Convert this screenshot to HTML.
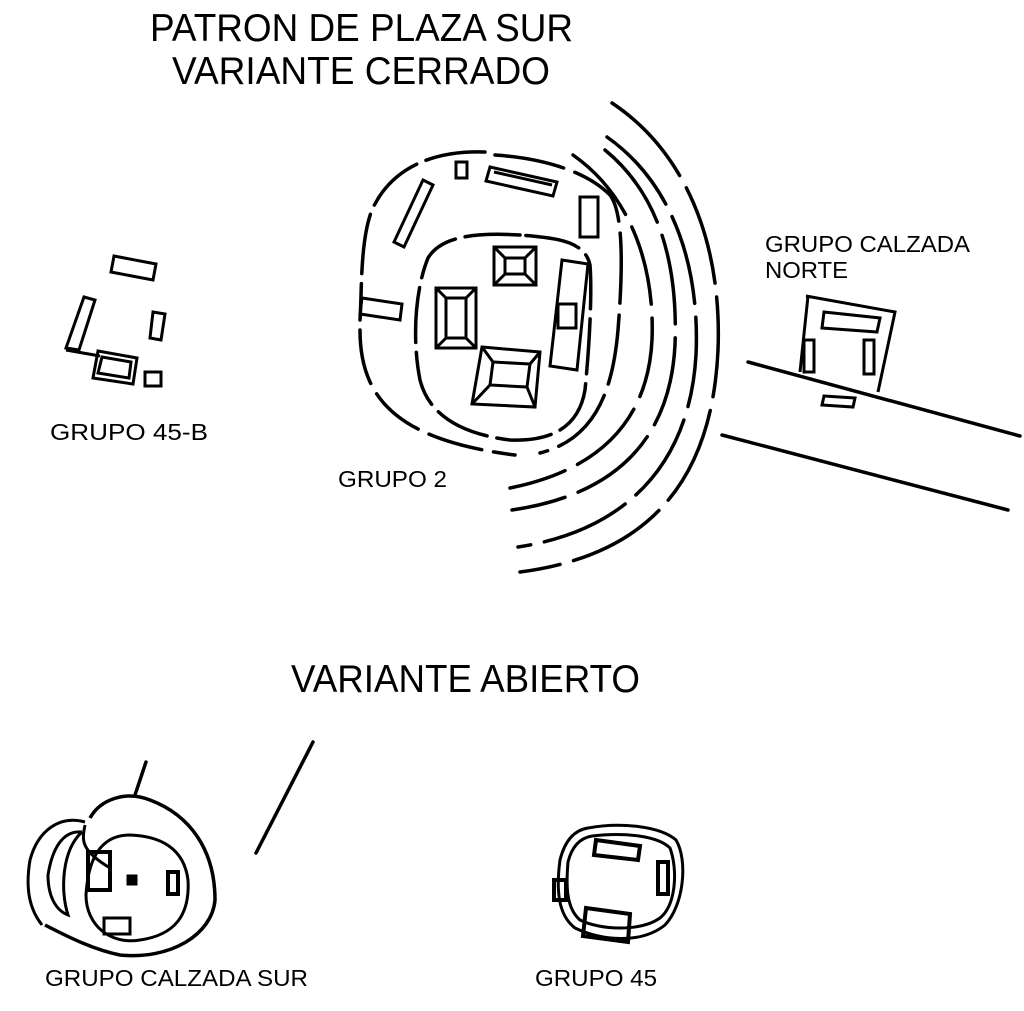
<!DOCTYPE html>
<html><head><meta charset="utf-8"><style>html,body{margin:0;padding:0;background:#fff}svg{display:block}</style></head>
<body>
<svg width="1024" height="1011" viewBox="0 0 1024 1011" xmlns="http://www.w3.org/2000/svg" font-family="Liberation Sans, sans-serif">
<g fill="#000">
<text x="150" y="41" font-size="39" textLength="423" lengthAdjust="spacingAndGlyphs">PATRON DE PLAZA SUR</text>
<text x="172" y="84" font-size="39" textLength="378" lengthAdjust="spacingAndGlyphs">VARIANTE CERRADO</text>
<text x="291" y="692" font-size="39" textLength="349" lengthAdjust="spacingAndGlyphs">VARIANTE ABIERTO</text>
<text x="50" y="440" font-size="23" textLength="158" lengthAdjust="spacingAndGlyphs">GRUPO 45-B</text>
<text x="338" y="487" font-size="23" textLength="109" lengthAdjust="spacingAndGlyphs">GRUPO 2</text>
<text x="765" y="252" font-size="23" textLength="205" lengthAdjust="spacingAndGlyphs">GRUPO CALZADA</text>
<text x="765" y="278" font-size="23" textLength="83" lengthAdjust="spacingAndGlyphs">NORTE</text>
<text x="45" y="986" font-size="23" textLength="263" lengthAdjust="spacingAndGlyphs">GRUPO CALZADA SUR</text>
<text x="535" y="986" font-size="23" textLength="122" lengthAdjust="spacingAndGlyphs">GRUPO 45</text>
</g>
<g fill="none" stroke="#000" stroke-width="3.5" stroke-linecap="round">
<path d="M485 152 C430 150 390 170 372 210 C360 240 362 290 360 320" stroke-dasharray="60 10"/>
<path d="M360 330 C360 380 380 410 420 430 C450 445 490 452 515 455" stroke-dasharray="55 12"/>
<path d="M495 155 C540 158 585 170 610 195 C625 215 622 280 618 330 C612 400 590 440 540 453" stroke-dasharray="70 12"/>
<path d="M520 235 C470 232 440 238 428 258 C415 290 412 340 420 380 C430 420 470 435 510 440 C560 442 580 420 585 390 C590 340 592 290 590 265 C585 242 560 238 520 235" stroke-dasharray="55 10"/>
<path d="M573 155 C630 195 655 265 652 340 C648 420 600 470 510 488" stroke-dasharray="80 14"/>
<path d="M605 150 C660 195 678 265 675 345 C670 440 615 495 512 510" stroke-dasharray="90 14"/>
<path d="M607 137 C675 185 700 270 696 355 C690 460 630 530 518 547" stroke-dasharray="90 14"/>
<path d="M612 103 C690 155 722 250 718 350 C712 480 650 555 520 572" stroke-dasharray="100 14"/>
<line x1="748" y1="362" x2="1020" y2="436"/>
<line x1="722" y1="435" x2="1008" y2="510"/>
<line x1="146" y1="762" x2="135" y2="795"/>
<line x1="313" y1="742" x2="256" y2="853"/>
</g>
<g fill="none" stroke="#000" stroke-width="3">
<rect x="456" y="162" width="11" height="16"/>
<path d="M490 167 L557 182 L553 196 L486 181 Z"/><path d="M494 172 L552 185"/>
<rect x="580" y="197" width="18" height="40"/>
<path d="M423 180 L433 185 L404 247 L394 242 Z"/>
<path d="M362 298 L402 304 L400 320 L360 314 Z"/>
<rect x="494" y="247" width="42" height="38"/><rect x="505" y="258" width="20" height="16"/>
<path d="M494 247 L505 258 M536 247 L525 258 M494 285 L505 274 M536 285 L525 274"/>
<rect x="436" y="288" width="40" height="60"/><rect x="446" y="298" width="20" height="40"/>
<path d="M436 288 L446 298 M476 288 L466 298 M436 348 L446 338 M476 348 L466 338"/>
<path d="M482 347 L540 352 L535 407 L472 404 Z"/><path d="M493 362 L530 364 L527 387 L490 385 Z"/>
<path d="M482 347 L493 362 M540 352 L530 364 M472 404 L490 385 M535 407 L527 387"/>
<path d="M562 260 L588 264 L577 370 L550 366 Z"/><rect x="558" y="304" width="18" height="24"/>
<path d="M806 296 L895 312 L878 392 M808 296 L800 372"/>
<path d="M824 312 L880 318 L877 332 L822 328 Z"/>
<rect x="804" y="340" width="10" height="32"/><rect x="864" y="340" width="10" height="34"/>
<path d="M824 396 L855 398 L853 407 L822 405 Z"/>
<path d="M114 256 L156 264 L153 280 L111 272 Z"/>
<path d="M84 297 L95 300 L79 350 L66 348 Z"/><path d="M66 350 L100 356"/>
<path d="M98 351 L137 358 L133 384 L93 378 Z"/><path d="M102 357 L131 362 L129 378 L98 373 Z"/>
<path d="M153 312 L165 314 L161 340 L150 338 Z"/>
<rect x="145" y="372" width="16" height="14"/>
<path d="M90 818 C100 800 125 790 150 800 C190 815 215 850 215 900 C212 935 170 960 120 955 C95 950 70 938 45 925" stroke-width="3.5"/>
<path d="M85 822 C60 815 38 830 30 860 C25 890 30 910 42 925"/>
<path d="M82 832 C62 830 52 850 48 875 C48 895 55 910 68 915 C60 890 62 850 82 832"/>
<path d="M110 868 C80 850 82 840 85 825"/>
<path d="M130 835 C100 835 88 860 86 895 C86 925 110 945 140 940 C175 935 190 915 188 880 C184 848 160 836 130 835"/>
<rect x="88" y="852" width="22" height="38" stroke-width="4"/>
<rect x="128" y="876" width="8" height="8" fill="#000"/>
<rect x="168" y="872" width="10" height="22" stroke-width="4"/>
<rect x="104" y="918" width="26" height="16"/>
<path d="M588 828 C620 822 660 826 676 840 C688 860 684 905 665 925 C640 945 600 940 575 928 C558 915 556 890 560 860 C565 840 575 830 588 828"/>
<path d="M592 836 C625 832 658 836 670 848 C678 870 676 905 660 918 C640 932 600 930 580 920 C566 908 566 885 568 862 C572 846 580 838 592 836"/>
<path d="M596 840 L640 846 L638 860 L594 855 Z" stroke-width="4"/>
<rect x="658" y="862" width="10" height="32" stroke-width="4"/>
<rect x="554" y="880" width="12" height="20" stroke-width="4"/>
<path d="M586 908 L630 914 L628 942 L583 936 Z" stroke-width="4"/>
</g>
</svg>
</body></html>
